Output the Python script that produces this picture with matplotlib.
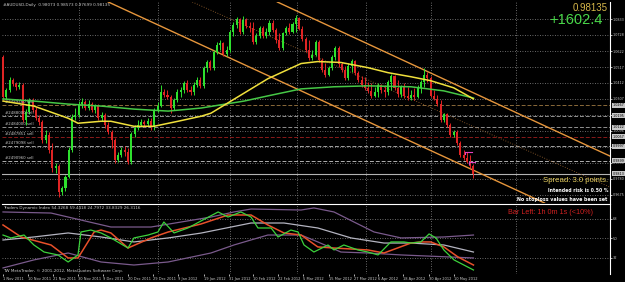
import matplotlib
matplotlib.use("Agg")
from matplotlib import pyplot as plt
import numpy as np

# AUDUSD daily candles, 1 Nov 2011 .. 18 May 2012
opens = [1.0583, 1.0320, 1.0366, 1.0432, 1.0405, 1.0386, 1.0399, 1.0168, 1.0221, 1.0300, 1.0234, 1.0182, 1.0155, 1.0037, 1.0070, 0.9971,
         0.9853, 0.9866, 0.9695, 0.9721, 0.9794, 0.9971, 1.0188, 1.0201, 1.0274, 1.0287, 1.0247, 1.0274, 1.0234, 1.0261, 1.0182, 1.0201,
         1.0136, 1.0090, 1.0037, 0.9905, 0.9938, 0.9971, 0.9958, 0.9892, 1.0076, 1.0116, 1.0136, 1.0155, 1.0142, 1.0162, 1.0129, 1.0234,
         1.0261, 1.0353, 1.0333, 1.0320, 1.0247, 1.0300, 1.0353, 1.0366, 1.0412, 1.0366, 1.0353, 1.0399, 1.0432, 1.0392, 1.0511, 1.0550,
         1.0511, 1.0616, 1.0662, 1.0675, 1.0603, 1.0629, 1.0747, 1.0794, 1.0833, 1.0747, 1.0826, 1.0787, 1.0774, 1.0682, 1.0721, 1.0774,
         1.0721, 1.0747, 1.0807, 1.0761, 1.0695, 1.0642, 1.0741, 1.0774, 1.0747, 1.0800, 1.0840, 1.0767, 1.0701, 1.0629, 1.0576, 1.0596,
         1.0682, 1.0563, 1.0497, 1.0465, 1.0511, 1.0583, 1.0642, 1.0537, 1.0497, 1.0445, 1.0524, 1.0557, 1.0478, 1.0432, 1.0399, 1.0379,
         1.0359, 1.0326, 1.0353, 1.0399, 1.0366, 1.0353, 1.0419, 1.0458, 1.0379, 1.0340, 1.0386, 1.0326, 1.0313, 1.0333, 1.0320, 1.0379,
         1.0419, 1.0465, 1.0445, 1.0326, 1.0307, 1.0274, 1.0168, 1.0208, 1.0136, 1.0070, 1.0090, 1.0017, 0.9938, 0.9918, 0.9892, 0.9866]
highs = [1.0596, 1.0379, 1.0451, 1.0445, 1.0419, 1.0419, 1.0412, 1.0241, 1.0313, 1.0313, 1.0254, 1.0201, 1.0168, 1.0103, 1.0090, 1.0017,
         0.9886, 0.9879, 0.9734, 0.9807, 0.9991, 1.0208, 1.0247, 1.0294, 1.0313, 1.0300, 1.0300, 1.0287, 1.0274, 1.0274, 1.0221, 1.0215,
         1.0155, 1.0103, 1.0050, 0.9958, 0.9991, 0.9998, 0.9984, 1.0090, 1.0136, 1.0168, 1.0175, 1.0168, 1.0182, 1.0182, 1.0247, 1.0287,
         1.0399, 1.0372, 1.0366, 1.0333, 1.0313, 1.0372, 1.0386, 1.0425, 1.0432, 1.0392, 1.0419, 1.0451, 1.0451, 1.0524, 1.0563, 1.0563,
         1.0629, 1.0682, 1.0695, 1.0682, 1.0655, 1.0761, 1.0813, 1.0846, 1.0840, 1.0853, 1.0840, 1.0813, 1.0813, 1.0741, 1.0787, 1.0787,
         1.0774, 1.0826, 1.0826, 1.0774, 1.0741, 1.0747, 1.0787, 1.0807, 1.0813, 1.0859, 1.0846, 1.0787, 1.0715, 1.0695, 1.0629, 1.0695,
         1.0695, 1.0576, 1.0543, 1.0524, 1.0596, 1.0655, 1.0655, 1.0550, 1.0524, 1.0543, 1.0570, 1.0563, 1.0491, 1.0458, 1.0451, 1.0419,
         1.0412, 1.0386, 1.0412, 1.0405, 1.0399, 1.0432, 1.0471, 1.0465, 1.0432, 1.0399, 1.0412, 1.0386, 1.0366, 1.0379, 1.0399, 1.0432,
         1.0511, 1.0484, 1.0458, 1.0366, 1.0333, 1.0300, 1.0215, 1.0215, 1.0149, 1.0103, 1.0103, 1.0030, 0.9971, 0.9958, 0.9938, 0.9879]
lows = [1.0300, 1.0307, 1.0353, 1.0392, 1.0366, 1.0372, 1.0155, 1.0136, 1.0208, 1.0221, 1.0168, 1.0136, 1.0017, 1.0017, 0.9951, 0.9826,
        0.9820, 0.9662, 0.9675, 0.9701, 0.9787, 0.9958, 1.0168, 1.0188, 1.0247, 1.0234, 1.0234, 1.0221, 1.0215, 1.0168, 1.0162, 1.0116,
        1.0076, 0.9984, 0.9886, 0.9892, 0.9925, 0.9932, 0.9879, 0.9879, 1.0057, 1.0103, 1.0122, 1.0122, 1.0129, 1.0103, 1.0103, 1.0221,
        1.0254, 1.0320, 1.0307, 1.0215, 1.0234, 1.0287, 1.0320, 1.0346, 1.0353, 1.0333, 1.0333, 1.0386, 1.0379, 1.0379, 1.0484, 1.0497,
        1.0497, 1.0603, 1.0629, 1.0590, 1.0590, 1.0616, 1.0721, 1.0774, 1.0734, 1.0734, 1.0774, 1.0747, 1.0669, 1.0669, 1.0708, 1.0708,
        1.0708, 1.0728, 1.0747, 1.0675, 1.0629, 1.0629, 1.0728, 1.0734, 1.0741, 1.0747, 1.0761, 1.0688, 1.0616, 1.0563, 1.0563, 1.0590,
        1.0550, 1.0484, 1.0451, 1.0458, 1.0497, 1.0563, 1.0517, 1.0484, 1.0432, 1.0432, 1.0484, 1.0465, 1.0419, 1.0386, 1.0366, 1.0346,
        1.0313, 1.0320, 1.0320, 1.0346, 1.0320, 1.0333, 1.0366, 1.0366, 1.0320, 1.0320, 1.0313, 1.0300, 1.0300, 1.0300, 1.0313, 1.0346,
        1.0386, 1.0419, 1.0320, 1.0300, 1.0261, 1.0155, 1.0155, 1.0122, 1.0057, 1.0057, 1.0004, 0.9925, 0.9905, 0.9886, 0.9853, 0.9787]
closes = [1.0320, 1.0366, 1.0432, 1.0405, 1.0386, 1.0399, 1.0168, 1.0221, 1.0300, 1.0234, 1.0182, 1.0155, 1.0037, 1.0070, 0.9971, 0.9853,
          0.9866, 0.9695, 0.9721, 0.9794, 0.9971, 1.0188, 1.0201, 1.0274, 1.0287, 1.0247, 1.0274, 1.0234, 1.0261, 1.0182, 1.0201, 1.0136,
          1.0090, 1.0037, 0.9905, 0.9938, 0.9971, 0.9958, 0.9892, 1.0076, 1.0116, 1.0136, 1.0155, 1.0142, 1.0162, 1.0129, 1.0234, 1.0261,
          1.0353, 1.0333, 1.0320, 1.0247, 1.0300, 1.0353, 1.0366, 1.0412, 1.0366, 1.0353, 1.0399, 1.0432, 1.0392, 1.0511, 1.0550, 1.0511,
          1.0616, 1.0662, 1.0675, 1.0603, 1.0629, 1.0747, 1.0794, 1.0833, 1.0747, 1.0826, 1.0787, 1.0774, 1.0682, 1.0721, 1.0774, 1.0721,
          1.0747, 1.0807, 1.0761, 1.0695, 1.0642, 1.0741, 1.0774, 1.0747, 1.0800, 1.0840, 1.0767, 1.0701, 1.0629, 1.0576, 1.0596, 1.0682,
          1.0563, 1.0497, 1.0465, 1.0511, 1.0583, 1.0642, 1.0537, 1.0497, 1.0445, 1.0524, 1.0557, 1.0478, 1.0432, 1.0399, 1.0379, 1.0359,
          1.0326, 1.0353, 1.0399, 1.0366, 1.0353, 1.0419, 1.0458, 1.0379, 1.0340, 1.0386, 1.0326, 1.0313, 1.0333, 1.0320, 1.0379, 1.0419,
          1.0465, 1.0445, 1.0326, 1.0307, 1.0274, 1.0168, 1.0208, 1.0136, 1.0070, 1.0090, 1.0017, 0.9938, 0.9918, 0.9892, 0.9866, 0.98135]

# moving averages, read at a few bars
ma_fast_bar = [0, 9.4, 19.8, 22.8, 29.8, 32.8, 39.8, 45.9, 53.2, 60.2, 63.2, 69.3, 80.5, 90.6, 95.7, 102.7, 110.9, 117, 124, 130, 137, 143]
ma_fast = [1.0293, 1.0260, 1.0180, 1.0147, 1.0160, 1.0160, 1.0127, 1.0127, 1.0160, 1.0193, 1.0213, 1.0293, 1.0440, 1.0540, 1.0553,
           1.0547, 1.0513, 1.0480, 1.0453, 1.0427, 1.0380, 1.0307]
ma_slow_bar = [0, 9.4, 19.8, 29.8, 39.8, 50.2, 60.2, 73.3, 80.5, 90.6, 100.6, 110.9, 124, 134, 143]
ma_slow = [1.0307, 1.0293, 1.0273, 1.0260, 1.0240, 1.0227, 1.0247, 1.0293, 1.0327, 1.0373, 1.0387, 1.0393, 1.0387, 1.0360, 1.0313]

# channel trend lines (two anchors each)
upper_line = [(82.1, 1.0958), (147.7, 1.0300)]
lower_line = [(30.7, 1.0958), (162.6, 0.9642)]
mid_line = [(56.2, 1.0958), (124.0, 1.0307)]

# order levels
order_levels = [1.0267, 1.0195, 1.0122, 1.0057, 0.9997, 0.9899]
order_names = ["#2489460 sell", "#2488000 sell", "#2484000 sell", "#2487851 sell", "#2479098 sell", "#2490960 sell"]
bid = 0.98135

# small magenta markers beside the last bars
mark_bars = [[140.5, 142.6], [141.5, 143.6]]
mark_levels = [0.9958, 0.9892]

price_grid = [1.0833, 1.0728, 1.0622, 1.0517, 1.0412, 1.0307, 1.0201, 1.0096, 0.9991, 0.9886, 0.9780, 0.9675]
time_grid = [23.1, 47.1, 69.0, 89.3, 110.3, 130.1, 155.9]

date_pos = [0, 7.6, 15.2, 22.8, 30.4, 38, 45.6, 53.2, 61, 68.7, 76, 83.6, 91.2, 99, 106.7, 114, 121.6, 129.5, 137]
date_labels = ["1 Nov 2011", "10 Nov 2011", "21 Nov 2011", "30 Nov 2011", "9 Dec 2011", "20 Dec 2011", "29 Dec 2011",
               "9 Jan 2012", "19 Jan 2012", "31 Jan 2012", "10 Feb 2012", "22 Feb 2012", "5 Mar 2012", "15 Mar 2012",
               "27 Mar 2012", "6 Apr 2012", "18 Apr 2012", "30 Apr 2012", "10 May 2012"]

# Traders Dynamic Index
tdi_up_bar = [0, 14.6, 32.8, 45, 63.2, 70.2, 75.4, 90.6, 94.5, 100.6, 106.7, 112.8, 121, 134, 143]
tdi_up = [74.5, 73.5, 60.6, 60.6, 69.8, 74.5, 77.2, 76.3, 78.2, 74.5, 65.2, 56.0, 50.5, 51.4, 53.2]
tdi_mid_bar = [0, 9.4, 19.8, 29.8, 39.8, 50.2, 60.2, 75.4, 85.4, 95.7, 105.8, 115.8, 124, 134, 143]
tdi_mid = [48.6, 51.4, 55.1, 51.4, 46.8, 50.5, 55.0, 64.3, 64.3, 59.7, 50.5, 45.8, 45.8, 44.0, 37.5]
tdi_lo_bar = [0, 9.4, 19.8, 29.8, 39.8, 50.2, 63.2, 70.2, 80.5, 90.6, 95.7, 102.7, 110.9, 121, 143]
tdi_lo = [22.8, 30.2, 36.6, 28.3, 25.5, 28.3, 36.6, 44.0, 53.2, 53.2, 46.8, 37.5, 36.6, 34.8, 32.0]
tdi_sig_bar = [0, 5.5, 14.6, 19.8, 22.8, 27.7, 29.8, 32.8, 38, 45, 50.2, 60.2, 68.4, 75.4, 80.5, 85.4, 90.6, 95.7,
               100.6, 110.9, 115.8, 124, 127, 130, 134, 138.3, 143]
tdi_sig = [62.5, 51.4, 44.0, 32.0, 32.0, 56.0, 57.8, 55.1, 41.2, 50.5, 56.0, 63.4, 71.7, 71.7, 62.5, 55.1, 53.2, 42.2,
           41.2, 39.4, 36.6, 45.8, 46.8, 46.8, 42.2, 32.9, 25.5]
tdi_rsi_bar = [0, 2.4, 6.4, 9.4, 12.5, 16.7, 19.8, 22.8, 23.7, 26.7, 29.8, 32.8, 38, 39.8, 44.1, 47.1, 48.9, 52, 56.2,
               60.2, 65.4, 68.4, 72.3, 75.4, 77.5, 81.5, 83.6, 87.5, 89.7, 91.5, 94.5, 98.8, 100.6, 103.6, 107.9, 110.9,
               114, 117.9, 121.9, 124, 127, 129.5, 131.6, 134, 137.1, 143]
tdi_rsi = [53.2, 50.5, 53.2, 44.0, 37.5, 34.8, 28.3, 34.8, 56.0, 57.8, 55.1, 50.5, 41.2, 50.5, 53.2, 56.0, 65.2, 55.1, 59.7,
           66.2, 74.5, 69.8, 74.5, 69.8, 59.7, 59.7, 51.4, 57.8, 56.0, 44.0, 37.5, 44.0, 39.4, 44.0, 39.4, 37.5,
           34.8, 46.8, 46.8, 45.8, 46.8, 54.2, 50.5, 39.4, 30.2, 20.9]
tdi_levels = [68, 50, 32]

W, H = 625, 282
fig = plt.figure(figsize=(W / 100, H / 100), dpi=100, facecolor="black")
ax = fig.add_axes([2 / W, 1 - 203 / H, 608 / W, 201 / H], facecolor="black")
ax2 = fig.add_axes([2 / W, 1 - 274 / H, 608 / W, 70 / H], facecolor="black")

grid_kw = dict(color="#8c8c8c", lw=0.6, ls=(0, (1, 2)))
for a in (ax, ax2):
    a.set_xlim(-0.3, 184.5)
    for s in a.spines.values():
        s.set_visible(False)
    a.spines["right"].set_visible(True)
    a.spines["right"].set_color("white")
    a.spines["right"].set_linewidth(0.8)
    for t in time_grid:
        a.axvline(t, **grid_kw, zorder=0)
ax2.spines["top"].set_visible(True)
ax2.spines["top"].set_color("white")
ax2.spines["top"].set_linewidth(0.8)

ax.set_ylim(0.9622, 1.0945)
for p in price_grid:
    ax.axhline(p, **grid_kw, zorder=0)

# candles
o, h, l, c = map(np.array, (opens, highs, lows, closes))
x = np.arange(len(c))
col = np.where(c >= o, "#2ee02e", "#e02424")
ax.vlines(x, l, h, colors=col, lw=0.7, zorder=3)
ax.bar(x, np.maximum(np.abs(c - o), 0.0004), bottom=np.minimum(o, c), width=0.62, color=col, lw=0, zorder=3)

ax.plot(ma_slow_bar, ma_slow, color="#46c846", lw=1.1, zorder=4)
ax.plot(ma_fast_bar, ma_fast, color="#f0e03c", lw=1.1, zorder=4)

for a_, b_ in (upper_line, lower_line):
    ax.axline(a_, b_, color="#e6963c", lw=1.0, zorder=2)
ax.axline(mid_line[0], mid_line[1], color="#a06830", lw=0.6, ls=(0, (1, 2)), zorder=2)

for bars, lev in zip(mark_bars, mark_levels):
    ax.plot(bars, [lev, lev], color="#e040c0", lw=0.8, zorder=5)
    ax.plot([bars[0], bars[0]], [lev, lev - 0.0012], color="#e040c0", lw=0.8, zorder=5)

# order lines
styles = ["#8a6a3a", "#909090", "#909090", "#8a1a1a", "#a0a0a0", "#b0b0b0"]
for lev, name, sc in zip(order_levels, order_names, styles):
    ax.axhline(lev, color=sc, lw=0.7, ls=(0, (4, 2)), zorder=1)
    ax.text(0.5, lev + 0.0006, name, color="#c8c8c8", fontsize=2.8, va="bottom", ha="left")
ax.axhline(bid, color="#b4b4b4", lw=0.8, zorder=1)

ax.set_xticks([])
ax.set_yticks(price_grid)
ax.set_yticklabels(["%.4f" % p for p in price_grid])
ax.yaxis.tick_right()
ax.tick_params(axis="y", colors="white", labelcolor="#c8c8c8", labelsize=2.4, length=1.5, width=0.5, pad=0.3)

# boxed price labels for the order levels and the bid
for lev in order_levels + [bid]:
    ax.annotate("%.4f" % lev, xy=(1, lev), xycoords=("axes fraction", "data"), xytext=(2, 0),
                textcoords="offset points", fontsize=2.4, color="black", va="center", ha="left",
                bbox=dict(boxstyle="square,pad=0.15", fc="#c8c8c8", ec="none"))

# indicator window
ax2.set_ylim(17.2, 81.85)
for lev in tdi_levels:
    ax2.axhline(lev, **grid_kw, zorder=0)
ax2.plot(tdi_up_bar, tdi_up, color="#7a5a8c", lw=0.9)
ax2.plot(tdi_lo_bar, tdi_lo, color="#7a5a8c", lw=0.9)
ax2.plot(tdi_mid_bar, tdi_mid, color="#b4b4c0", lw=0.9)
ax2.plot(tdi_sig_bar, tdi_sig, color="#e8502a", lw=1.1)
ax2.plot(tdi_rsi_bar, tdi_rsi, color="#3cd23c", lw=0.9)
ax2.set_yticks(tdi_levels)
ax2.set_yticklabels([str(v) for v in tdi_levels])
ax2.yaxis.tick_right()
ax2.tick_params(axis="y", colors="white", labelcolor="#c8c8c8", labelsize=2.6, length=1.5, width=0.5, pad=0.5)
ax2.set_xticks(date_pos)
ax2.set_xticklabels(date_labels, ha="left")
ax2.tick_params(axis="x", colors="white", labelcolor="#c8c8c8", labelsize=2.6, length=1.5, width=0.5, pad=0.5)

# texts
fig.text(3 / W, 1 - 5 / H, "#AUDUSD,Daily  0.98073 0.98573 0.97699 0.98135", color="#c8c8c8", fontsize=3, va="center")
fig.text(608 / W, 1 - 8 / H, "0.98135", color="#d8b84a", fontsize=7, va="center", ha="right", family="Liberation Sans")
fig.text(603 / W, 1 - 20 / H, "+1602.4", color="#4ad84a", fontsize=10.5, va="center", ha="right", family="Liberation Sans")
fig.text(608 / W, 1 - 180 / H, "Spread: 3.0 points.", color="#e8d060", fontsize=5.6, va="center", ha="right", family="Liberation Sans")
fig.text(608 / W, 1 - 190 / H, "Intended risk is 0.50 %", color="white", fontsize=3.3, va="center", ha="right", weight="bold")
fig.text(607 / W, 1 - 199 / H, "No stoploss values have been set", color="white", fontsize=3.4, va="center", ha="right", weight="bold")
fig.text(593 / W, 1 - 212 / H, "Bar Left: 1h 0m 1s (<10%)", color="#d02020", fontsize=5.2, va="center", ha="right", family="Liberation Sans")
fig.text(3 / W, 1 - 208 / H, "Traders Dynamic Index 54.3268 59.4418 24.7972 33.8329 26.3116", color="#c8c8c8", fontsize=3, va="center")
fig.text(3 / W, 1 - 271 / H, "TW MetaTrader, \u00a9 2001-2012, MetaQuotes Software Corp.", color="#c8c8c8", fontsize=3, va="center")

fig.savefig("out.png", dpi=100, facecolor="black")
